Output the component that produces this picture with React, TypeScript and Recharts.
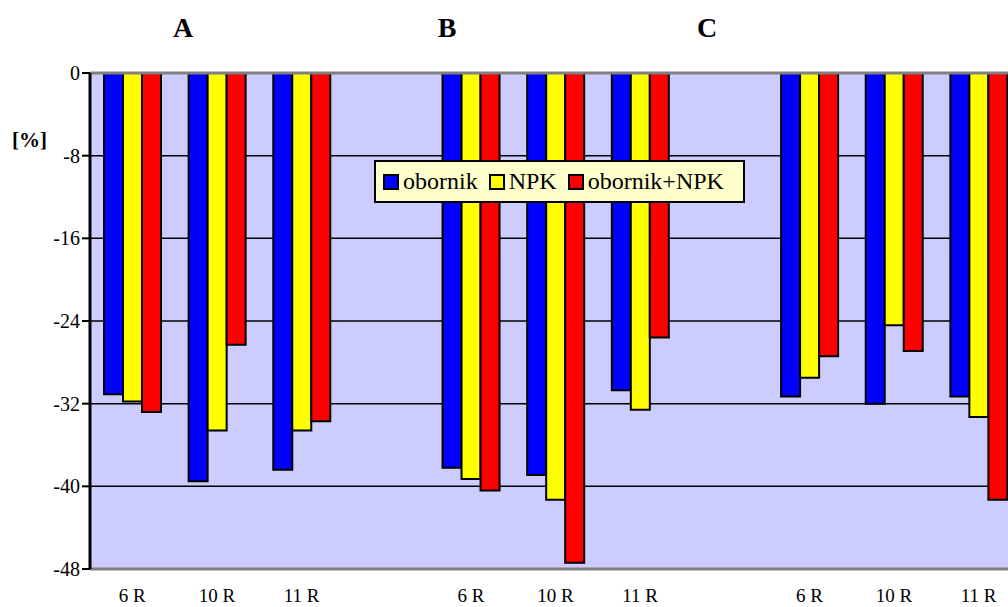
import {
  BarChart,
  Bar,
  XAxis,
  YAxis,
  CartesianGrid,
  ReferenceLine,
} from "recharts";

const categories = ["6 R", "10 R", "11 R", "", "6 R", "10 R", "11 R", "", "6 R", "10 R", "11 R"];
const obornik = [-31.1, -39.5, -38.4, null, -38.2, -38.9, -30.7, null, -31.3, -32.0, -31.3];
const npk = [-31.8, -34.6, -34.6, null, -39.3, -41.3, -32.6, null, -29.5, -24.4, -33.3];
const obornikNpk = [-32.8, -26.3, -33.7, null, -40.4, -47.4, -25.6, null, -27.4, -26.9, -41.3];
const yTicks = [0, -8, -16, -24, -32, -40, -48];
const groupTitles = [
  { label: "A", x: 183 },
  { label: "B", x: 447 },
  { label: "C", x: 707 },
];

const data = categories.map((name, i) => ({
  key: `c${i}`,
  name,
  obornik: obornik[i],
  npk: npk[i],
  obornikNpk: obornikNpk[i],
}));

const series = [
  { key: "obornik", name: "obornik", color: "#0000FF" },
  { key: "npk", name: "NPK", color: "#FFFF00" },
  { key: "obornikNpk", name: "obornik+NPK", color: "#FF0000" },
];

const FONT = '"Liberation Serif", "Times New Roman", serif';

// legend sits inside the plot, like the original Excel chart
const LegendBox = () => (
  <div
    style={{
      position: "absolute",
      left: 374,
      top: 160,
      display: "flex",
      alignItems: "center",
      background: "#FFFFCC",
      border: "2px solid #000",
      height: 39,
      width: 360,
      boxSizing: "content-box",
      fontFamily: FONT,
      fontSize: 24,
      color: "#000",
      paddingLeft: 7,
      zIndex: 2,
    }}
  >
    {series.map((s) => (
      <span key={s.key} style={{ display: "flex", alignItems: "center", marginRight: 11 }}>
        <span
          style={{
            display: "inline-block",
            width: 12,
            height: 12,
            background: s.color,
            border: "2px solid #000",
            marginRight: 4,
          }}
        />
        {s.name}
      </span>
    ))}
  </div>
);

export default function App() {
  return (
    <div
      style={{
        position: "absolute",
        left: 0,
        top: 0,
        width: 1008,
        height: 607,
        overflow: "hidden",
        background: "#fff",
      }}
    >
      {groupTitles.map((t) => (
        <div
          key={t.label}
          style={{
            position: "absolute",
            left: t.x - 20,
            width: 40,
            top: 12,
            textAlign: "center",
            fontFamily: FONT,
            fontWeight: "bold",
            fontSize: 28,
            lineHeight: "32px",
          }}
        >
          {t.label}
        </div>
      ))}
      <div
        style={{
          position: "absolute",
          left: 12,
          top: 128,
          fontFamily: FONT,
          fontWeight: "bold",
          fontSize: 21,
          lineHeight: "24px",
        }}
      >
        [%]
      </div>
      <BarChart
        width={1030}
        height={607}
        data={data}
        margin={{ top: 73, right: 9, left: 0, bottom: 0 }}
        barGap={0}
        barSize={19}
        style={{ position: "absolute", left: 0, top: 0 }}
      >
        <CartesianGrid
          vertical={false}
          fill="#CCCCFF"
          fillOpacity={1}
          stroke="#000"
          strokeWidth={1.5}
        />
        <XAxis
          dataKey="key"
          height={38}
          tickFormatter={(_v: string, i: number) => categories[i]}
          tickLine={false}
          axisLine={{ stroke: "#808080", strokeWidth: 3 }}
          tick={{ fill: "#000", fontFamily: FONT, fontSize: 19 }}
          tickMargin={14}
          interval={0}
        />
        <YAxis
          width={90}
          domain={[-48, 0]}
          ticks={yTicks}
          allowDataOverflow
          axisLine={{ stroke: "#000", strokeWidth: 3 }}
          tickLine={{ stroke: "#000", strokeWidth: 2 }}
          tickSize={8}
          tick={{ fill: "#000", fontFamily: FONT, fontSize: 20 }}
          tickMargin={2}
        />
        <ReferenceLine y={0} stroke="#808080" strokeWidth={3} />
        {series.map((s) => (
          <Bar
            key={s.key}
            dataKey={s.key}
            name={s.name}
            fill={s.color}
            stroke="#000"
            strokeWidth={2}
            isAnimationActive={false}
          />
        ))}
      </BarChart>
      <LegendBox />
    </div>
  );
}
